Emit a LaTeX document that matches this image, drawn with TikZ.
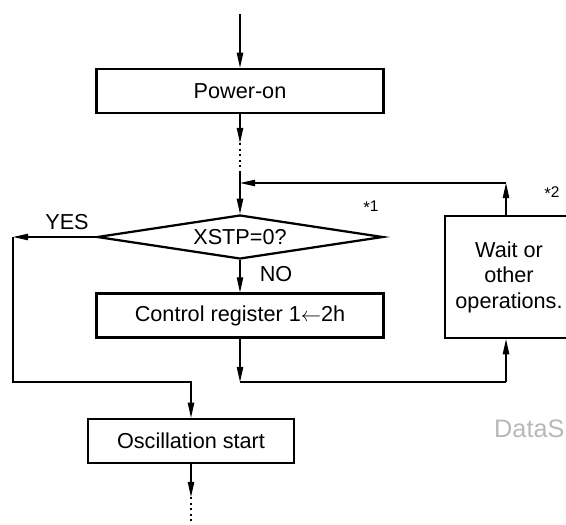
\documentclass[tikz,border=0pt]{standalone}
\usepackage{fontspec}
\setmainfont{Liberation Sans}
\usetikzlibrary{arrows.meta,shapes.geometric}

\begin{document}
\begin{tikzpicture}[
  font=\fontsize{15.4}{18.1}\selectfont,
  filo/.style={draw=black, line width=0.9pt},
  freccia/.style={filo, -{Triangle[length=0.38cm, width=0.16cm]}},
  puntinato/.style={draw=black, line width=0.9pt, dash pattern=on 0.05cm off 0.09cm},
  blocco/.style={draw=black, line width=1.6pt, rectangle, inner sep=0pt, minimum height=1.1cm, align=center},
  rombo/.style={draw=black, line width=1.6pt, diamond, aspect=6.5, inner sep=0pt, minimum width=7.15cm, minimum height=1.1cm},
  etichetta/.style={inner sep=1pt},
  nota/.style={inner sep=1pt, font=\fontsize{11}{12}\selectfont}
]
\useasboundingbox (0,0) rectangle (14.15,-13.1);

%--------------------------------------------------------------
% Accensione
%--------------------------------------------------------------
\coordinate (ingresso) at (6.000,-0.350);
\node[blocco, minimum width=7.175cm] (accensione) at (6.000,-2.275) {Power-on};
\draw[freccia] (ingresso) -- (accensione.north);
\coordinate (puntiA) at (6.000,-3.575);
\coordinate (puntiB) at (6.000,-4.300);
\draw[freccia] (accensione.south) -- (puntiA);
\draw[puntinato] (puntiA) -- (puntiB);

%--------------------------------------------------------------
% Test XSTP
%--------------------------------------------------------------
\node[rombo] (xstp) at (6.000,-5.925) {XSTP=0?};
\draw[freccia] (puntiB) -- (xstp.north);
\node[nota] (asterisco1) at (9.275,-5.175) {\raisebox{-0.25ex}{\large *}1};
\node[etichetta] (si) at (1.675,-5.550) {YES};
\node[etichetta] (no) at (6.900,-6.850) {NO};

%--------------------------------------------------------------
% Registro di controllo
%--------------------------------------------------------------
\node[blocco, minimum width=7.175cm] (registro) at (6.000,-7.890) {Control register 1$\leftarrow$2h};
\draw[freccia] (xstp.south) -- (registro.north);
\coordinate (unione) at (6.000,-9.550);
\draw[freccia] (registro.south) -- (unione);

%--------------------------------------------------------------
% Attesa o altre operazioni (ritorno al test)
%--------------------------------------------------------------
\node[blocco, minimum width=3.2cm, minimum height=3.05cm] (attesa) at (12.725,-6.925) {Wait or\\other\\operations.};
\node[nota] (asterisco2) at (13.800,-4.825) {\raisebox{-0.25ex}{\large *}2};
\coordinate (attesaSotto) at (12.650,-9.550);
\coordinate (attesaSopra) at (12.650,-4.575);
\coordinate (ritorno) at (6.000,-4.575);
\draw[filo] (unione) -- (attesaSotto);
\draw[freccia] (attesaSotto) -- (attesaSotto |- attesa.south);
\draw[freccia] (attesaSopra |- attesa.north) -- (attesaSopra);
\draw[freccia] (attesaSopra) -- (ritorno);

%--------------------------------------------------------------
% Ramo YES e avvio oscillazione
%--------------------------------------------------------------
\coordinate (angoloA) at (0.325,-5.925);
\coordinate (angoloB) at (0.325,-9.550);
\coordinate (angoloC) at (4.775,-9.550);
\draw[freccia] (xstp.west) -- (angoloA);
\node[blocco, minimum width=5.15cm] (oscillazione) at (4.775,-11.025) {Oscillation start};
\draw[freccia] (angoloA) -- (angoloB) -- (angoloC) -- (oscillazione.north);
\coordinate (puntiC) at (4.775,-12.425);
\coordinate (uscita) at (4.775,-13.100);
\draw[freccia] (oscillazione.south) -- (puntiC);
\draw[puntinato] (puntiC) -- (uscita);

\node[etichetta, anchor=base east, inner sep=0pt, text=black!28] (marchio) at (14.120,-10.925) {\fontsize{18}{20}\selectfont DataS};

\end{tikzpicture}
\end{document}
